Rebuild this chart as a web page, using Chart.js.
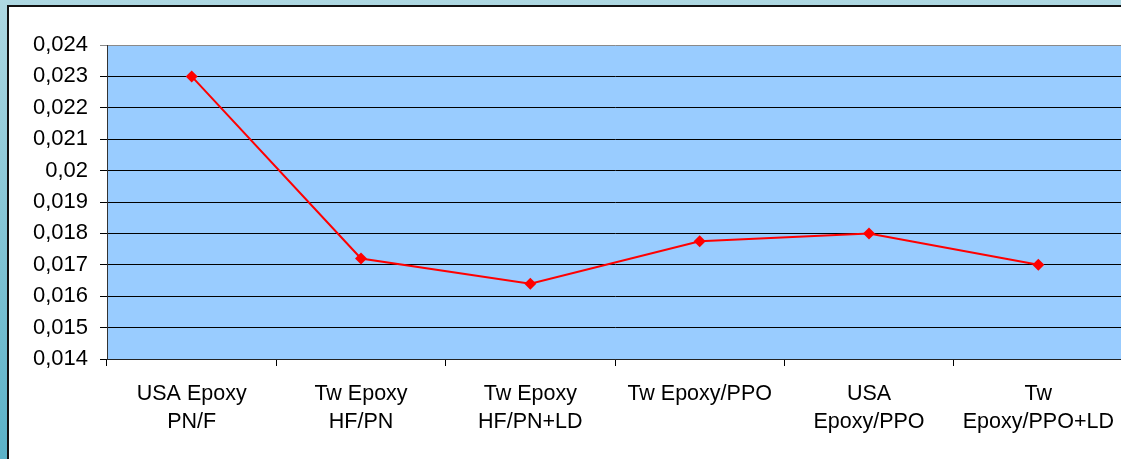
<!DOCTYPE html>
<html>
<head>
<meta charset="utf-8">
<script src="https://cdn.jsdelivr.net/npm/chart.js@4"></script>
<style>
  html, body { margin: 0; padding: 0; width: 1121px; height: 459px; overflow: hidden;
    background: linear-gradient(to bottom, #aed8e2, #5ab1c7); }
  #panel { position: absolute; left: 7px; top: 5px; width: 1130px; height: 460px;
    background: #fff; border-top: 2px solid #111; border-left: 2px solid #111; }
  #wrap { position: absolute; left: 0; top: 0; width: 1130px; height: 452px; }
</style>
</head>
<body>
<div id="panel"><div id="wrap"><canvas id="c"></canvas></div></div>
<script>
// Categories (multi-line labels) and measured values
const categories = [
  ["USA Epoxy", "PN/F"],
  ["Tw Epoxy", "HF/PN"],
  ["Tw Epoxy", "HF/PN+LD"],
  "Tw Epoxy/PPO",
  ["USA", "Epoxy/PPO"],
  ["Tw", "Epoxy/PPO+LD"]
];
const values = [0.0230, 0.0172, 0.0164, 0.01775, 0.0180, 0.0170];

// Y axis ticks and their printed labels
const yTickValues = [0.014, 0.015, 0.016, 0.017, 0.018, 0.019, 0.020, 0.021, 0.022, 0.023, 0.024];
const yTickLabels = ["0,014", "0,015", "0,016", "0,017", "0,018", "0,019", "0,02", "0,021", "0,022", "0,023", "0,024"];

const plotBackground = {
  id: 'plotBackground',
  beforeDraw(chart) {
    const { ctx, chartArea: a } = chart;
    ctx.save();
    ctx.fillStyle = '#99ccff';
    ctx.fillRect(a.left, a.top, a.right - a.left, a.bottom - a.top);
    ctx.restore();
  }
};

const family = '"Liberation Sans", Arial, sans-serif';

new Chart(document.getElementById('c'), {
  type: 'line',
  data: {
    labels: categories,
    datasets: [{
      data: values,
      borderColor: '#ff0000',
      backgroundColor: '#ff0000',
      borderWidth: 2,
      tension: 0,
      pointStyle: 'rectRot',
      pointRadius: 6,
      pointHoverRadius: 6,
      pointBorderWidth: 0
    }]
  },
  options: {
    responsive: true,
    maintainAspectRatio: false,
    animation: false,
    events: [],
    layout: { padding: { top: 38, right: 16, bottom: 0, left: 0 } },
    plugins: { legend: { display: false }, title: { display: false }, tooltip: { enabled: false } },
    scales: {
      x: {
        offset: true,
        grid: { offset: true, drawOnChartArea: false, drawTicks: true, tickLength: 7, color: '#000', lineWidth: 1 },
        border: { display: true, color: '#222', width: 1 },
        ticks: { color: '#000', font: { family, size: 21.5, lineHeight: 1.32 }, maxRotation: 0, minRotation: 0, autoSkip: false, padding: 14 },
        afterFit(scale) { scale.height = 100; }
      },
      y: {
        min: 0.014,
        max: 0.024,
        afterBuildTicks(scale) { scale.ticks = yTickValues.map(v => ({ value: v })); },
        grid: {
          color: ctx => (ctx.index === yTickValues.length - 1 ? '#8a8a8a' : '#000'),
          lineWidth: 1, tickLength: 7, drawTicks: true
        },
        border: { display: true, color: '#333', width: 1 },
        ticks: {
          color: '#000', font: { family, size: 22 }, padding: 12,
          callback: (v, i) => yTickLabels[i]
        },
        afterFit(scale) { scale.width = 98; }
      }
    }
  },
  plugins: [plotBackground]
});
</script>
</body>
</html>
